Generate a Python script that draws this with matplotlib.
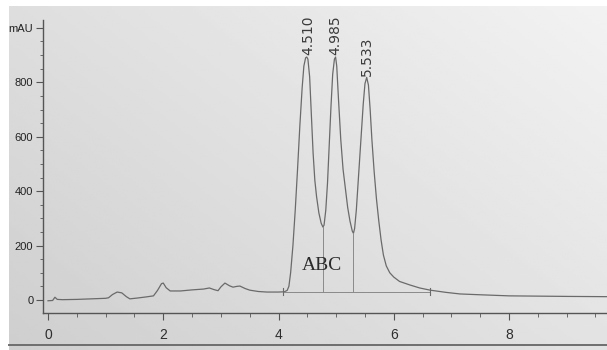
import matplotlib.pyplot as plt
import numpy as np
from matplotlib.lines import Line2D

# chromatogram trace (min, mAU)
time_min = [0.00, 0.08, 0.12, 0.16, 0.25, 0.50, 0.75, 1.00, 1.05, 1.12, 1.20, 1.28, 1.36, 1.42,
            1.55, 1.70, 1.83, 1.90, 1.97, 2.00, 2.05, 2.12, 2.30, 2.50, 2.70, 2.80, 2.88, 2.95,
            3.00, 3.07, 3.15, 3.21, 3.28, 3.33, 3.42, 3.50, 3.65, 3.80, 4.00, 4.10, 4.15, 4.18,
            4.21, 4.25, 4.29, 4.33, 4.37, 4.41, 4.44, 4.47, 4.49, 4.51, 4.54, 4.57, 4.60, 4.63,
            4.66, 4.70, 4.74, 4.77, 4.79, 4.82, 4.85, 4.88, 4.91, 4.94, 4.97, 4.99, 5.01, 5.04,
            5.08, 5.12, 5.16, 5.20, 5.24, 5.28, 5.30, 5.32, 5.35, 5.39, 5.43, 5.47, 5.50, 5.53,
            5.56, 5.59, 5.62, 5.66, 5.70, 5.74, 5.78, 5.82, 5.87, 5.93, 6.00, 6.10, 6.28, 6.45,
            6.63, 6.90, 7.15, 7.50, 8.00, 8.50, 9.00, 9.70]
signal_mau = [-3, -2, 10, 2, 1, 2, 4, 6, 8, 20, 29, 26, 12, 4,
              7, 11, 15, 35, 60, 62, 45, 33, 33, 37, 40, 44, 38, 34,
              48, 62, 52, 47, 50, 51, 42, 36, 31, 29, 29, 30, 35, 50,
              100, 200, 330, 480, 640, 780, 860, 890, 893, 885, 820, 680, 540, 440,
              380, 320, 282, 268, 275, 330, 430, 570, 710, 830, 885, 893, 860, 740,
              590, 480, 410, 340, 290, 253, 245, 262, 330, 460, 590, 720, 795, 818,
              790, 700, 590, 470, 370, 290, 220, 165, 125, 100, 84, 68, 55, 44,
              36, 28, 22, 19, 15, 14, 13, 12]

peak_times = [4.510, 4.985, 5.533]
peak_heights = [893, 893, 818]
peak_labels = ['4.510', '4.985', '5.533']

valley_times = [4.77, 5.30]
valley_values = [268, 245]
base_start, base_end, base_level = 4.07, 6.63, 31

y_ticks = [0, 200, 400, 600, 800, 1000]
y_labels = ['0', '200', '400', '600', '800', 'mAU']
x_ticks = [0, 2, 4, 6, 8]

fig = plt.figure(figsize=(6.07, 3.5), dpi=100, facecolor='white')

# scanned paper background
bg = fig.add_axes([9 / 607, 0, 1 - 9 / 607, 1 - 6 / 350], zorder=-2)
gx, gy = np.meshgrid(np.linspace(0, 1, 200), np.linspace(0, 1, 120))
shade = 0.81 + 0.08 * gx + 0.06 * gy
bg.imshow(shade, cmap='gray', vmin=0, vmax=1, aspect='auto', origin='lower',
          extent=[0, 1, 0, 1])
bg.set_axis_off()
fig.add_artist(Line2D([9 / 607, 1], [1 - 345 / 350] * 2, color='#6e6e6e', lw=1.4))

ax = fig.add_axes([43 / 607, 1 - 313 / 350, 1 - 43 / 607, 293 / 350])
ax.patch.set_alpha(0)

ax.plot(time_min, signal_mau, color='#6a6a6a', lw=0.9)

# integration baseline and drop lines
ax.plot([base_start, base_end], [base_level, base_level], color='#8a8a8a', lw=0.7)
for t, v in zip(valley_times, valley_values):
    ax.plot([t, t], [base_level, v], color='#8a8a8a', lw=0.7)
for t in [base_start, base_end]:
    ax.plot([t, t], [base_level - 12, base_level + 12], color='#6a6a6a', lw=0.8)

for t, h, lab in zip(peak_times, peak_heights, peak_labels):
    ax.text(t, h + 6, lab, rotation=90, ha='center', va='bottom',
            fontsize=10, color='#3a3a3a', family='DejaVu Sans')

ax.text(4.76, 128, 'ABC', fontsize=14, family='Liberation Serif',
        color='#2a2a2a', ha='center', va='center')

ax.set_xlim(-0.087, 9.70)
ax.set_ylim(-48, 1029)
for s in ['top', 'right']:
    ax.spines[s].set_visible(False)
for s in ['left', 'bottom']:
    ax.spines[s].set_color('#555555')
    ax.spines[s].set_linewidth(1.0)

ax.set_yticks(y_ticks)
ax.set_yticklabels(y_labels, family='Liberation Sans', fontsize=8, color='#222222')
ax.set_yticks(np.arange(0, 1001, 50), minor=True)
ax.set_xticks(x_ticks)
ax.set_xticklabels([str(v) for v in x_ticks],
                   family=['Liberation Sans Narrow', 'Liberation Sans'],
                   fontsize=10, color='#2e2e2e')
ax.set_xticks(np.arange(0, 9.6, 0.5), minor=True)
ax.tick_params(axis='y', which='major', length=5, width=0.8, color='#555555', pad=2)
ax.tick_params(axis='y', which='minor', length=2.5, width=0.6, color='#555555')
ax.tick_params(axis='x', which='major', length=5, width=0.8, color='#555555', pad=6)
ax.tick_params(axis='x', which='minor', length=3, width=0.6, color='#555555')

plt.savefig('out.png', dpi=100)
plt.close()
